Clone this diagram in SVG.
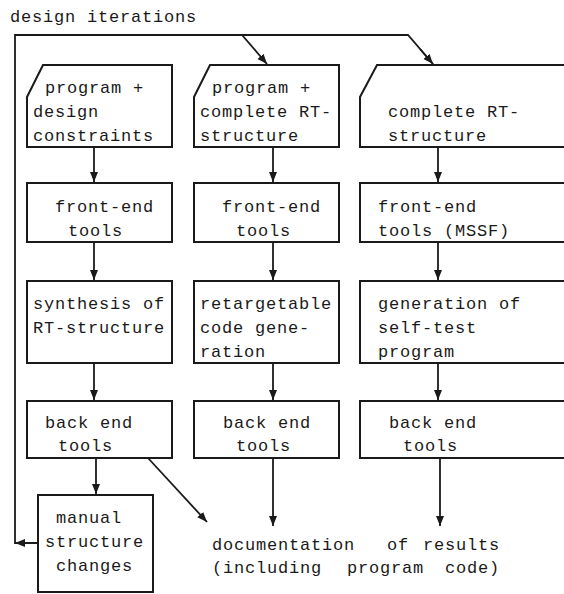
<svg xmlns="http://www.w3.org/2000/svg" width="564" height="594" viewBox="0 0 564 594">
<defs>
<marker id="ah" viewBox="0 0 10 10" refX="10" refY="5" markerWidth="10" markerHeight="10" markerUnits="userSpaceOnUse" orient="auto"><path d="M0,1 L10,5 L0,9 Z" fill="#1a1a1a"/></marker>
<style>
.b{fill:#fff;stroke:#1a1a1a;stroke-width:2}
.c{fill:none;stroke:#1a1a1a;stroke-width:1.8}
.a{marker-end:url(#ah)}
text{font-family:"Liberation Mono","DejaVu Sans Mono",monospace;font-size:17px;letter-spacing:0.8px;fill:#1a1a1a}
</style>
</defs>
<rect width="564" height="594" fill="#fff"/>
<text x="10" y="22">design iterations</text>
<g id="connectors">
<path class="c" d="M38,543 L15,543 L15,35 L408,35 L433,64"/>
<path class="c a" d="M242,35 L267,64"/>
<path class="c a" d="M420,49 L433,64"/>
<path class="c a" d="M26,543 L15,543"/>
<path class="c a" d="M94,147 V182"/>
<path class="c a" d="M273,147 V182"/>
<path class="c a" d="M438,147 V182"/>
<path class="c a" d="M94,242 V280"/>
<path class="c a" d="M273,242 V280"/>
<path class="c a" d="M438,242 V280"/>
<path class="c a" d="M94,363 V400"/>
<path class="c a" d="M273,363 V400"/>
<path class="c a" d="M438,363 V400"/>
<path class="c a" d="M96,458 V494"/>
<path class="c a" d="M148,458 L207,522"/>
<path class="c a" d="M273,458 V526"/>
<path class="c a" d="M440,458 V526"/>
</g>
<g id="in1"><path class="b" d="M27,97 L43,65 H172 V147 H27 Z"/>
<text x="45" y="93">program +</text><text x="33" y="117">design</text><text x="33" y="141">constraints</text></g>
<g id="in2"><path class="b" d="M194,97 L210,65 H339 V147 H194 Z"/>
<text x="212" y="93">program +</text><text x="200" y="117">complete RT-</text><text x="200" y="141">structure</text></g>
<g id="in3"><path class="b" d="M360,97 L377,65 H570 V147 H360 Z"/>
<text x="388" y="117">complete RT-</text><text x="388" y="141">structure</text></g>
<g id="fe1"><rect class="b" x="27" y="183" width="145" height="59"/>
<text x="55" y="212">front-end</text><text x="68" y="236">tools</text></g>
<g id="fe2"><rect class="b" x="194" y="183" width="145" height="59"/>
<text x="222" y="212">front-end</text><text x="236" y="236">tools</text></g>
<g id="fe3"><rect class="b" x="360" y="183" width="210" height="59"/>
<text x="378" y="212">front-end</text><text x="378" y="236">tools (MSSF)</text></g>
<g id="syn"><rect class="b" x="27" y="281" width="145" height="82"/>
<text x="33" y="309">synthesis of</text><text x="33" y="333">RT-structure</text></g>
<g id="code"><rect class="b" x="194" y="281" width="145" height="82"/>
<text x="200" y="309">retargetable</text><text x="200" y="333">code gene-</text><text x="200" y="357">ration</text></g>
<g id="gen"><rect class="b" x="360" y="281" width="210" height="82"/>
<text x="378" y="309">generation of</text><text x="378" y="333">self-test</text><text x="378" y="357">program</text></g>
<g id="be1"><rect class="b" x="27" y="401" width="145" height="57"/>
<text x="45" y="428">back end</text><text x="58" y="451">tools</text></g>
<g id="be2"><rect class="b" x="194" y="401" width="145" height="57"/>
<text x="223" y="428">back end</text><text x="236" y="451">tools</text></g>
<g id="be3"><rect class="b" x="360" y="401" width="210" height="57"/>
<text x="389" y="428">back end</text><text x="403" y="451">tools</text></g>
<g id="manual"><rect class="b" x="38" y="495" width="115" height="97"/>
<text x="56" y="523">manual</text><text x="45" y="547">structure</text><text x="56" y="571">changes</text></g>
<g id="doc">
<text y="550"><tspan x="212">documentation</tspan><tspan x="387">of</tspan><tspan x="423">results</tspan></text>
<text y="573"><tspan x="212">(including</tspan><tspan x="347">program</tspan><tspan x="445">code)</tspan></text>
</g>
</svg>
